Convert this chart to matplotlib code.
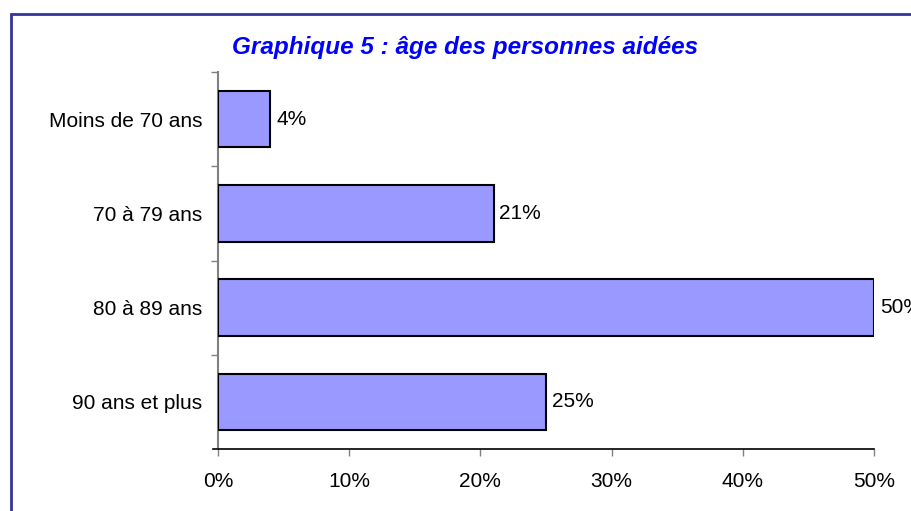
import matplotlib
matplotlib.use("Agg")
import matplotlib.pyplot as plt
from matplotlib.patches import Rectangle
from matplotlib.ticker import FixedLocator, PercentFormatter

plt.rcParams['font.family'] = ['Liberation Sans', 'DejaVu Sans']

# data
categories = ["Moins de 70 ans", "70 à 79 ans", "80 à 89 ans", "90 ans et plus"]
values = [4, 21, 50, 25]
title = "Graphique 5 : âge des personnes aidées"

fig = plt.figure(figsize=(9.12, 5.11), dpi=100)
ax = fig.add_axes([218/912, 1-449/511, (874-218)/912, (449-72)/511])

pos = list(range(len(categories)))
ax.barh(pos, values, height=0.6, color="#9999FF", edgecolor="black", linewidth=1.5, zorder=3)
for p, v in zip(pos, values):
    ax.text(v + 0.45, p, f"{v}%", va="center", ha="left", fontsize=15, color="black", clip_on=False)

ax.set_ylim(len(categories) - 0.5, -0.5)
ax.set_xlim(0, 50)
ax.set_yticks(pos)
ax.set_yticklabels(categories, fontsize=15)
ax.yaxis.set_minor_locator(FixedLocator([i - 0.5 for i in range(len(categories))]))
ax.tick_params(axis="y", which="major", length=0, pad=11.5)
ax.tick_params(axis="y", which="minor", length=5, color="#808080", width=1)
ax.set_xticks(range(0, 51, 10))
ax.xaxis.set_major_formatter(PercentFormatter(decimals=0))
ax.tick_params(axis="x", length=5, color="#808080", width=1, labelsize=15, pad=11.5)

for s in ("top", "right"):
    ax.spines[s].set_visible(False)
ax.spines["left"].set_color("#808080")
ax.spines["left"].set_linewidth(1.5)
ax.spines["bottom"].set_color("black")
ax.spines["bottom"].set_linewidth(1.2)
# the x axis line runs a little past the y axis
ax.plot([-0.4, 0], [3.5, 3.5], color="black", linewidth=1.2, clip_on=False)

fig.text(465/912, 1-47/511, title, ha="center", va="center", fontsize=17.5,
         fontweight="bold", fontstyle="italic", color="#0000FF")

# outer frame, runs off the right and bottom edges
fig.patches.append(Rectangle((11/912, -0.1), 1.2, 1.1 - 14/511, transform=fig.transFigure,
                             fill=False, edgecolor="#333399", linewidth=2))

fig.savefig("out.png", dpi=100)
